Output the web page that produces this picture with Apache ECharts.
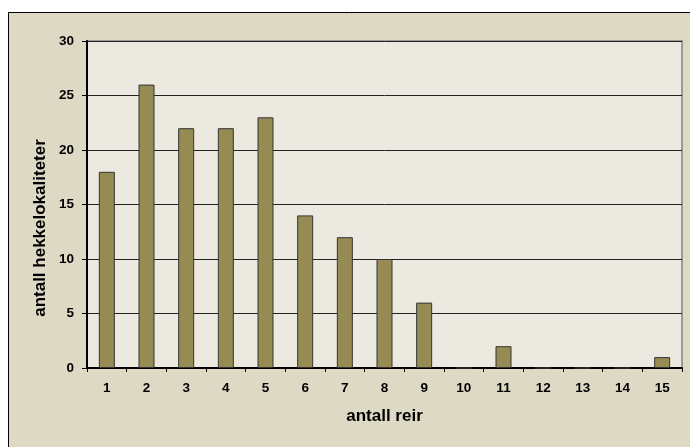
<!DOCTYPE html>
<html><head><meta charset="utf-8">
<script src="https://cdn.jsdelivr.net/npm/echarts@6/dist/echarts.min.js"></script>
<style>html,body{margin:0;padding:0;background:#fff;}#c{width:690px;height:447px;}</style>
</head><body><div id="c"></div>
<script>
const categories = ['1','2','3','4','5','6','7','8','9','10','11','12','13','14','15'];
const values = [18,26,22,22,23,14,12,10,6,0,2,0,0,0,1];
const xTitle = 'antall reir';
const yTitle = 'antall hekkelokaliteter';
const chart = echarts.init(document.getElementById('c'), null, {renderer:'canvas'});
const font = 'Liberation Sans, Arial, sans-serif';
chart.setOption({
  animation:false,
  backgroundColor:'#ffffff',
  graphic:[
    {type:'rect',z:-10,shape:{x:8.5,y:12.5,width:700,height:450},style:{fill:'#ddd9c4',stroke:'#000',lineWidth:1}},
    {type:'text',x:40,y:228,rotation:Math.PI/2,style:{text:yTitle,font:'bold 17px '+font,fill:'#000',textAlign:'center',textVerticalAlign:'middle'}}
  ],
  grid:{left:87,top:41,right:8,bottom:79,show:true,backgroundColor:'#eceae0',borderColor:'#9a9a9a',borderWidth:2},
  xAxis:{type:'category',data:categories,name:xTitle,nameLocation:'middle',nameGap:40,
    nameTextStyle:{fontFamily:font,fontWeight:'bold',fontSize:17,color:'#000'},
    axisLine:{lineStyle:{color:'#000',width:2}},
    axisTick:{show:true,length:4,lineStyle:{color:'#000'}},
    axisLabel:{fontFamily:font,fontWeight:'bold',fontSize:13.5,color:'#000',margin:13}},
  yAxis:{type:'value',min:0,max:30,interval:5,
    axisLine:{show:true,lineStyle:{color:'#000',width:2}},
    axisTick:{show:true,length:5,lineStyle:{color:'#000'}},
    axisLabel:{fontFamily:font,fontWeight:'bold',fontSize:13.5,color:'#000',margin:13},
    splitLine:{lineStyle:{color:'#222',width:1}}},
  series:[{type:'bar',data:values,barWidth:16,itemStyle:{color:'#958b53',borderColor:'#333',borderWidth:1}}]
});
</script></body></html>
